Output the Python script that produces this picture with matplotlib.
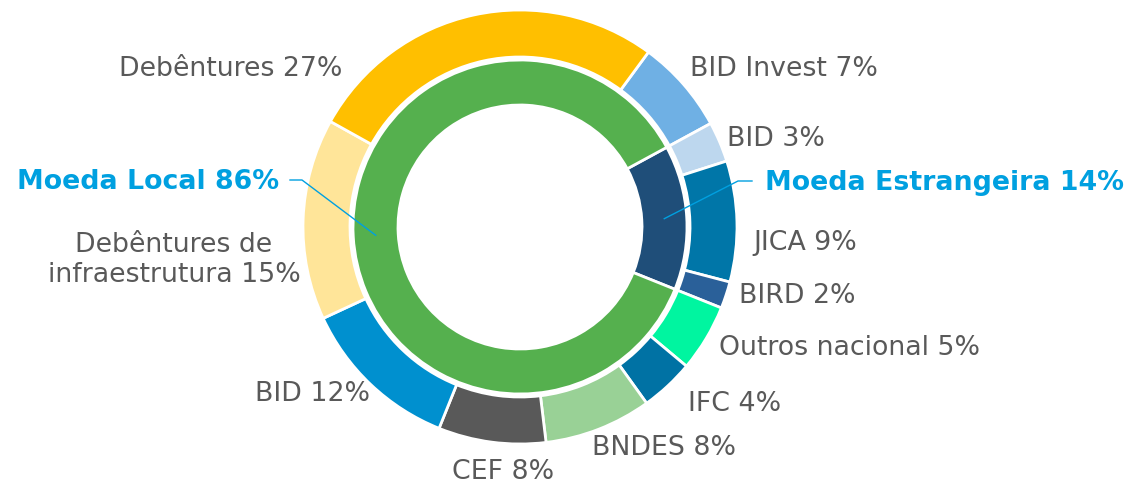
import numpy as np
import matplotlib.pyplot as plt

# outer ring, clockwise starting at the top-right
outer_labels = ["BID Invest 7%", "BID 3%", "JICA 9%", "BIRD 2%", "Outros nacional 5%",
                "IFC 4%", "BNDES 8%", "CEF 8%", "BID 12%",
                "Debêntures de\ninfraestrutura 15%", "Debêntures 27%"]
outer_values = [7, 3, 9, 2, 5, 4, 8, 8, 12, 15, 27]
outer_colors = ["#6FB0E4", "#BDD7EE", "#0076A8", "#2A6099", "#00F5A0",
                "#0072A4", "#99D196", "#595959", "#0090CF", "#FFE599", "#FFBF00"]

# inner ring
inner_labels = ["Moeda Estrangeira 14%", "Moeda Local 86%"]
inner_values = [14, 86]
inner_colors = ["#1F4E79", "#55B04E"]

W, H = 1127, 486
cx, cy = 520, H - 227
text_gray = "#595959"
hl_blue = "#00A0E0"

fig = plt.figure(figsize=(W / 100, H / 100), dpi=100)
ax = fig.add_axes([0, 0, 1, 1])

outer_start = 36.3
inner_start = outer_start + 360 * outer_values[0] / sum(outer_values)

ax.pie(outer_values, colors=outer_colors, startangle=90 - outer_start, counterclock=False,
       radius=217, center=(cx, cy),
       wedgeprops=dict(width=47, edgecolor="white", linewidth=2))
inner_wedges, _ = ax.pie(inner_values, colors=inner_colors, startangle=90 - inner_start,
                         counterclock=False, radius=167, center=(cx, cy),
                         wedgeprops=dict(width=45, edgecolor="white", linewidth=2))

ax.set_xlim(0, W)
ax.set_ylim(0, H)
ax.set_aspect("auto")
ax.axis("off")

# label layout (pixel coords, y from top): x, y, alignment
label_pos = [(690, 69, "left"), (727, 139, "left"), (753, 243, "left"), (739, 296, "left"),
             (719, 348, "left"), (688, 404, "left"), (592, 448, "left"), (503, 472, "center"),
             (370, 394, "right"), (174, 260, "center"), (342, 69, "right")]
fs = 19.3
for lab, (x, y, ha) in zip(outer_labels, label_pos):
    ax.text(x, H - y, lab, ha=ha, va="center", fontsize=fs, color=text_gray,
            linespacing=1.15)

# inner ring callouts
inner_text = [(765, 183, "left", 752, 738), (279, 182, "right", 290, 302)]
for w, lab, (x, y, ha, x0, x1) in zip(inner_wedges, inner_labels, inner_text):
    mid = np.deg2rad((w.theta1 + w.theta2) / 2)
    r = 167 - 45 / 2
    px, py = cx + r * np.cos(mid), cy + r * np.sin(mid)
    ax.text(x, H - y, lab, ha=ha, va="center", fontsize=fs, color=hl_blue,
            fontweight="bold")
    ax.plot([x0, x1, px], [H - y + 2, H - y + 2, py], color=hl_blue, lw=1)

fig.savefig("out.png", dpi=100)
